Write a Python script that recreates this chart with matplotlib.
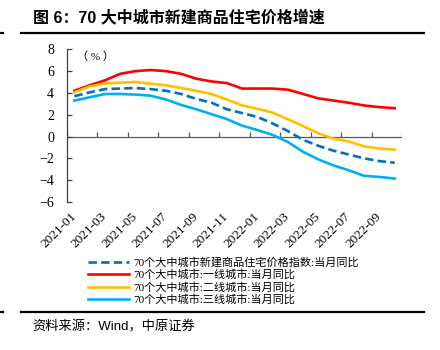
import numpy as np
import matplotlib
matplotlib.use("Agg")
import matplotlib.pyplot as plt
from matplotlib.lines import Line2D

# monthly data 2021-01 .. 2022-10 (YoY, %)
months = ["2021-01", "2021-02", "2021-03", "2021-04", "2021-05", "2021-06",
          "2021-07", "2021-08", "2021-09", "2021-10", "2021-11", "2021-12",
          "2022-01", "2022-02", "2022-03", "2022-04", "2022-05", "2022-06",
          "2022-07", "2022-08", "2022-09", "2022-10"]
total = [3.7, 4.05, 4.35, 4.4, 4.45, 4.35, 4.2, 3.9, 3.45, 3.1, 2.5, 2.15,
         1.8, 1.2, 0.5, -0.3, -0.85, -1.3, -1.65, -2.0, -2.25, -2.4]
tier1 = [4.2, 4.7, 5.15, 5.75, 6.0, 6.1, 6.0, 5.75, 5.3, 5.05, 4.9, 4.4,
         4.4, 4.4, 4.3, 3.9, 3.5, 3.3, 3.1, 2.85, 2.7, 2.6]
tier2 = [4.05, 4.6, 4.85, 4.95, 5.0, 4.85, 4.7, 4.45, 4.2, 3.9, 3.4, 2.85,
         2.55, 2.2, 1.6, 0.95, 0.3, -0.2, -0.45, -0.9, -1.1, -1.2]
tier3 = [3.3, 3.6, 3.9, 3.9, 3.85, 3.75, 3.4, 2.9, 2.5, 2.05, 1.6, 1.0,
         0.6, 0.15, -0.5, -1.4, -2.1, -2.65, -3.1, -3.6, -3.7, -3.85]

labels = ["70个大中城市新建商品住宅价格指数:当月同比",
          "70个大中城市:一线城市:当月同比",
          "70个大中城市:二线城市:当月同比",
          "70个大中城市:三线城市:当月同比"]
colors = ["#0070C0", "#FF0000", "#FFC000", "#00B0F0"]

serif = ["Liberation Serif", "Noto Sans CJK SC"]
sans = ["Liberation Sans", "Noto Sans CJK SC"]

W, H = 440, 350
fig = plt.figure(figsize=(4.4, 3.5), dpi=100)
ax = fig.add_axes([66.7 / W, 1 - 202 / H, (402.3 - 66.7) / W, (202 - 49.3) / H])

x = np.arange(len(months))
ax.plot(x, total, color=colors[0], lw=1.9, ls=(0, (3.2, 1.6)), label=labels[0])
ax.plot(x, tier1, color=colors[1], lw=1.9, label=labels[1])
ax.plot(x, tier2, color=colors[2], lw=1.9, label=labels[2])
ax.plot(x, tier3, color=colors[3], lw=1.9, label=labels[3])

ax.set_xlim(-0.5, len(months) - 0.5)
ax.set_ylim(-6, 8)
ax.set_yticks(range(-6, 9, 2))

# zero line with category-boundary ticks
ax.axhline(0, color="#595959", lw=0.9, zorder=1)
bounds = np.arange(-0.5, len(months), 2)
ax.vlines(bounds, 0, 0.38, color="#595959", lw=0.9, zorder=1)

for s in ["top", "right", "bottom"]:
    ax.spines[s].set_visible(False)
ax.spines["left"].set_color("#404040")
ax.spines["left"].set_linewidth(0.9)

ax.tick_params(axis="y", direction="in", length=3.5, width=0.9, color="#404040",
               pad=9, labelsize=10)
ax.set_xticks(x[::2])
ax.set_xticklabels(months[::2], rotation=45, ha="right", va="center",
                   rotation_mode="anchor", fontsize=9.5, family=serif)
ax.tick_params(axis="x", length=0, pad=9)
for t in ax.get_yticklabels():
    t.set_family(serif)

ax.text(0.03, 0.985, "（ % ）", transform=ax.transAxes, fontsize=8,
        family=serif, va="top", ha="left")

handles = [Line2D([], [], color=colors[0], lw=1.9, ls=(0, (3.2, 1.6))),
           Line2D([], [], color=colors[1], lw=1.9),
           Line2D([], [], color=colors[2], lw=1.9),
           Line2D([], [], color=colors[3], lw=1.9)]
fig.legend(handles, labels, loc="upper left", bbox_to_anchor=(88 / W, 1 - 257 / H),
           frameon=False, prop={"family": serif, "size": 8}, handlelength=3.7,
           handletextpad=0.35, labelspacing=0.15, borderpad=0, borderaxespad=0)

# title and source
fig.text(33 / W, 1 - 17 / H, "图 6：70 大中城市新建商品住宅价格增速", fontsize=11.5,
         fontweight="bold", family=sans, va="center", ha="left")
fig.add_artist(Line2D([21 / W, 424 / W], [1 - 32.7 / H] * 2, color="black", lw=1.6))
fig.add_artist(Line2D([0, 3 / W], [1 - 32.7 / H] * 2, color="black", lw=1.6))
fig.add_artist(Line2D([21 / W, 424 / W], [1 - 312.3 / H] * 2, color="black", lw=1.6))
fig.add_artist(Line2D([0, 3 / W], [1 - 312.3 / H] * 2, color="black", lw=1.6))
fig.text(32 / W, 1 - 327 / H, "资料来源：Wind，中原证券", fontsize=9.5,
         family=sans, va="center", ha="left")

fig.savefig("out.png", dpi=100)
